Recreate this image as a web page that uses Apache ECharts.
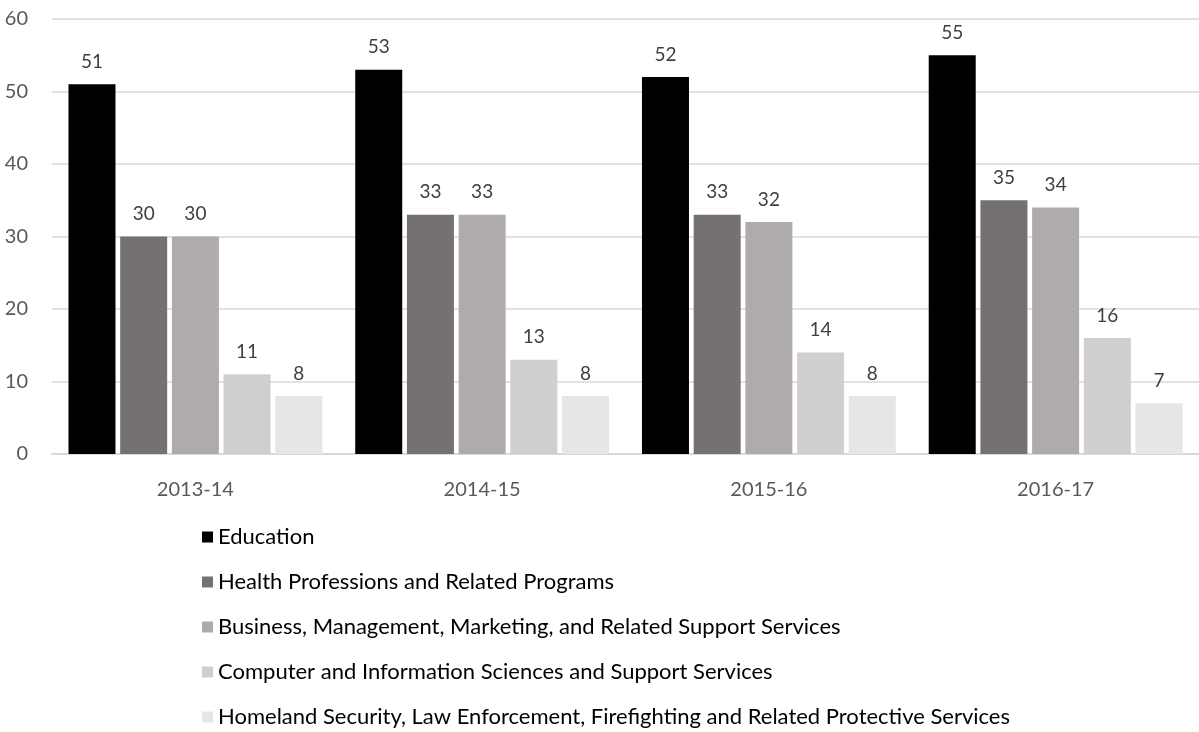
<!DOCTYPE html>
<html>
<head>
<meta charset="utf-8">
<script src="https://cdn.jsdelivr.net/npm/echarts@6/dist/echarts.min.js"></script>
<style>
  html, body { margin: 0; padding: 0; background: #fff; }
  #main { width: 1199px; height: 732px; }
</style>
</head>
<body>
<div id="main"></div>
<script>
var years = ["2013-14", "2014-15", "2015-16", "2016-17"];
var seriesNames = [
  "Education",
  "Health Professions and Related Programs",
  "Business, Management, Marketing, and Related Support Services",
  "Computer and Information Sciences and Support Services",
  "Homeland Security, Law Enforcement, Firefighting and Related Protective Services"
];
var education = [51, 53, 52, 55];
var health = [30, 33, 33, 35];
var business = [30, 33, 32, 34];
var computer = [11, 13, 14, 16];
var homeland = [8, 8, 8, 7];
var colors = ["#000000", "#767171", "#AFABAB", "#D0CECE", "#E7E6E6"];

var values = [education, health, business, computer, homeland];
var font = "Lato";

var myChart = echarts.init(document.getElementById("main"));
var series = values.map(function (v, i) {
  return {
    name: seriesNames[i],
    type: "bar",
    data: v,
    barWidth: 47,
    barGap: "10%",
    itemStyle: { color: colors[i] },
    label: {
      show: true,
      position: "top",
      distance: 13,
      color: "#404040",
      fontSize: 19,
      fontFamily: font
    }
  };
});

var option = {
  animation: false,
  color: colors,
  grid: { left: 52, top: 19, width: 1155, height: 435 },
  legend: {
    orient: "vertical",
    left: 202,
    top: 526,
    padding: 0,
    height: 205,
    itemWidth: 11,
    itemHeight: 11,
    itemGap: 23,
    icon: "rect",
    textStyle: { fontSize: 22, color: "#000", fontFamily: font }
  },
  xAxis: {
    type: "category",
    data: years,
    axisLine: { lineStyle: { color: "#d9d9d9", width: 2 } },
    axisTick: { show: false },
    axisLabel: { color: "#595959", fontSize: 20, margin: 26, fontFamily: font }
  },
  yAxis: {
    type: "value",
    min: 0,
    max: 60,
    interval: 10,
    axisLine: { show: false },
    axisTick: { show: false },
    axisLabel: { color: "#595959", fontSize: 20, margin: 24, fontFamily: font },
    splitLine: { lineStyle: { color: "#d9d9d9", width: 1.5 } }
  },
  series: series
};
myChart.setOption(option);
</script>
</body>
</html>
